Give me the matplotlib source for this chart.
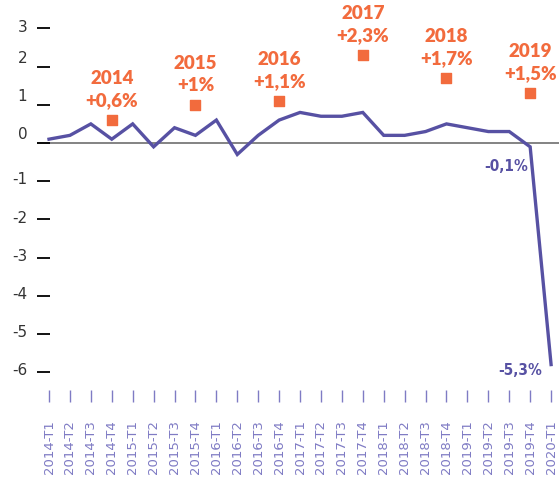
import matplotlib
matplotlib.use("Agg")
import matplotlib.pyplot as plt
import matplotlib.transforms as mtransforms

# --- data
quarters = ["2014-T1", "2014-T2", "2014-T3", "2014-T4",
            "2015-T1", "2015-T2", "2015-T3", "2015-T4",
            "2016-T1", "2016-T2", "2016-T3", "2016-T4",
            "2017-T1", "2017-T2", "2017-T3", "2017-T4",
            "2018-T1", "2018-T2", "2018-T3", "2018-T4",
            "2019-T1", "2019-T2", "2019-T3", "2019-T4",
            "2020-T1"]
quarterly = [0.1, 0.2, 0.5, 0.1,
             0.5, -0.1, 0.4, 0.2,
             0.6, -0.3, 0.2, 0.6,
             0.8, 0.7, 0.7, 0.8,
             0.2, 0.2, 0.3, 0.5,
             0.4, 0.3, 0.3, -0.1,
             -5.8]

years = ["2014", "2015", "2016", "2017", "2018", "2019"]
annual_pos = [3, 7, 11, 15, 19, 23]          # index of the T4 quarter
annual_vals = [0.6, 1.0, 1.1, 2.3, 1.7, 1.3]
annual_labels = ["+0,6%", "+1%", "+1,1%", "+2,3%", "+1,7%", "+1,5%"]

yticks = [3, 2, 1, 0, -1, -2, -3, -4, -5, -6]

LINE = "#5751a3"
ORANGE = "#f26b3d"
XLAB = "#7f7bc4"

fig = plt.figure(figsize=(5.59, 4.98), dpi=100)
ax = fig.add_axes([37 / 559, 108 / 498, 1 - 37 / 559, 390 / 498])

x = list(range(len(quarters)))
ax.axhline(0, color="#7a7a7a", lw=1.3, zorder=1)
ax.plot(x, quarterly, color=LINE, lw=2.4, solid_joinstyle="miter", zorder=3)

# annual markers + labels
ax.scatter(annual_pos, annual_vals, marker="s", s=55, color=ORANGE, zorder=4)
for xi, v, yr, lab in zip(annual_pos, annual_vals, years, annual_labels):
    ax.annotate(lab, (xi, v), xytext=(0, 14), textcoords="offset points",
                ha="center", va="center", color=ORANGE, fontsize=13.5,
                fontweight="heavy", family=["Lato", "DejaVu Sans"])
    ax.annotate(yr, (xi, v), xytext=(0, 30), textcoords="offset points",
                ha="center", va="center", color=ORANGE, fontsize=13.5,
                fontweight="heavy", family=["Lato", "DejaVu Sans"])

# value callouts
ax.annotate("-0,1%", (23, -0.1), xytext=(-17, -14), textcoords="offset points",
            ha="center", va="center", color=LINE, fontsize=11,
            fontweight="bold", family="DejaVu Sans", fontstretch="condensed")
ax.annotate("-5,3%", (24, -5.8), xytext=(-22, -4), textcoords="offset points",
            ha="center", va="center", color=LINE, fontsize=11,
            fontweight="bold", family="DejaVu Sans", fontstretch="condensed")

ax.set_xlim((37 - 49) / 20.92, (559 - 49) / 20.92)
ax.set_ylim(-(390 - 143) / 38.2, 143 / 38.2)

ax.set_yticks(yticks)
ax.set_yticklabels([str(t) for t in yticks], fontsize=11, color="#333333")
ax.tick_params(axis="y", direction="in", length=9.5, width=1.3, color="black", pad=7)
# positive labels sit a bit higher above their tick in the original
for t, lbl in zip(yticks, ax.get_yticklabels()):
    dy = 7 / 72 if 0 <= t < 3 else 2 / 72
    lbl.set_transform(lbl.get_transform() +
                      mtransforms.ScaledTranslation(0, dy, fig.dpi_scale_trans))

ax.set_xticks(x)
ax.set_xticklabels(quarters, rotation=90, fontsize=9.5, color=XLAB)
ax.tick_params(axis="x", direction="out", length=8.6, width=1, color=XLAB, pad=13)

for s in ax.spines.values():
    s.set_visible(False)

fig.savefig("out.png", dpi=100)
